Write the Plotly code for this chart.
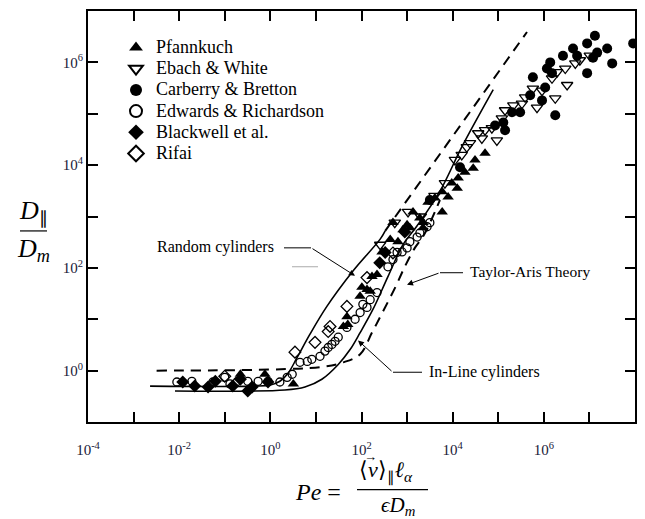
import plotly.graph_objects as go

# ---------------- data ----------------
pfannkuch_pe = [0.22, 0.76, 3.2, 40, 48, 50, 93, 102, 132, 155, 170, 219, 282, 427, 490, 631, 813, 1000,
                1150, 1350, 1900, 2240, 2240, 2880, 4070, 5890, 5890, 7940, 9550, 12600, 13200, 18600,
                28200, 30900, 51300]
pfannkuch_d = [0.85, 0.85, 0.55, 7.2, 11.2, 7.9, 28, 42, 38, 35, 68, 74, 204, 355, 760, 324, 550, 690,
               603, 1230, 933, 603, 760, 1900, 2290, 1230, 3020, 2400, 4470, 3550, 5620, 7240,
               8710, 12600, 17000]

ebach_pe = [257, 537, 1050, 2000, 3980, 6760, 11200, 15800, 20400, 24000, 36300, 43700, 51300, 72400,
            93300, 120000, 141000, 214000, 331000, 389000, 575000, 708000, 912000, 1.51e6, 1.78e6,
            1.95e6, 2.95e6, 3.24e6, 4.9e6, 6.17e6, 1.02e7]
ebach_d = [282, 759, 1230, 1000, 2510, 4470, 12600, 15800, 22400, 26900, 41700, 33100, 47900, 52500,
           30200, 81300, 117000, 145000, 158000, 209000, 309000, 132000, 282000, 490000, 200000,
           646000, 759000, 363000, 955000, 1.1e6, 1.35e6]

carberry_pe = [3160, 14500, 85100, 129000, 141000, 200000, 302000, 501000, 912000, 1.07e6, 575000,
               1.38e6, 1.17e6, 1.51e6, 1.78e6, 2.63e6, 4.37e6, 5.37e6, 8.91e6, 8.91e6, 1.48e7,
               1.2e7, 1.32e7, 2.45e7, 3.16e7, 9.12e7]
carberry_d = [2090, 9120, 58900, 67600, 47900, 107000, 107000, 229000, 182000, 324000, 513000,
              1.0e6, 759000, 617000, 93300, 1.35e6, 1.86e6, 1.35e6, 617000, 2.34e6, 1.55e6,
              1.23e6, 3.31e6, 1.86e6, 955000, 2.34e6]

edwards_pe = [0.0089, 0.019, 0.055, 0.10, 0.13, 0.19, 0.32, 0.54, 0.89, 1.62, 2.34, 3.02, 4.47, 6.46,
              8.13, 12.3, 15.8, 18.6, 22.4, 26.3, 30.9, 47.9, 72.4, 93.3, 107, 132, 155, 219, 380,
              490, 603, 776, 1000, 1150, 1660, 1910, 2750, 3160]
edwards_d = [0.60, 0.62, 0.60, 0.74, 0.55, 0.62, 0.62, 0.62, 0.62, 0.60, 0.74, 0.85, 1.45, 1.51,
             1.66, 1.90, 2.40, 2.82, 3.24, 3.72, 4.47, 6.92, 10.0, 13.5, 19.5, 17.0, 24.0, 33.1, 105,
             145, 200, 204, 245, 324, 398, 479, 631, 759]

blackwell_pe = [0.012, 0.022, 0.043, 0.062, 0.15, 0.22, 0.32, 0.40, 0.89, 251, 331, 891]
blackwell_d = [0.60, 0.50, 0.48, 0.62, 0.50, 0.68, 0.40, 0.48, 0.60, 126, 200, 501]

rifai_pe = [0.10, 3.47, 9.55, 18.6, 20.4, 47.9, 132, 490]
rifai_d = [0.78, 2.29, 3.55, 5.75, 7.24, 17.8, 64.6, 195]

# theory curves
random_pe = [0.0023, 0.457, 1.0, 1.62, 2.45, 3.89, 7.41, 17.4, 65, 257, 331]
random_d = [0.50, 0.50, 0.525, 0.62, 0.89, 1.82, 5.13, 17.8, 87, 363, 525]
random_ext_pe = [331, 427000]
random_ext_d = [525, 3.9e6]

inline_pe = [0.0081, 2.09, 5.75, 13.5, 30.9, 56.2, 93.3, 178, 380, 813, 1660, 5250, 16200, 77600]
inline_d = [0.40, 0.42, 0.48, 0.68, 1.32, 2.57, 5.50, 15.5, 67.6, 282, 661, 3090, 23400, 295000]

taylor_pe = [0.0032, 12.3, 39.8, 93.3, 170, 295, 550, 912, 1480, 2340, 5250]
taylor_d = [1.0, 1.17, 1.45, 2.09, 5.5, 14.1, 41.7, 110, 245, 437, 2090]

x_tick_vals = [1e-4, 1e-3, 1e-2, 1e-1, 1e0, 1e1, 1e2, 1e3, 1e4, 1e5, 1e6, 1e7, 1e8]
x_tick_text = ["10<sup>-4</sup>", "", "10<sup>-2</sup>", "", "10<sup>0</sup>", "", "10<sup>2</sup>", "",
               "10<sup>4</sup>", "", "10<sup>6</sup>", "", ""]
y_tick_vals = [1e-1, 1e0, 1e1, 1e2, 1e3, 1e4, 1e5, 1e6, 1e7]
y_tick_text = ["", "10<sup>0</sup>", "", "10<sup>2</sup>", "", "10<sup>4</sup>", "", "10<sup>6</sup>", ""]

# ---------------- figure ----------------
SERIF = "Liberation Serif, Times New Roman, serif"
fig = go.Figure()

solid = dict(color="black", width=1.6)
dashed = dict(color="black", width=2, dash="10px,7px")
fig.add_trace(go.Scatter(x=random_pe, y=random_d, mode="lines", line=solid,
                         line_shape="spline", showlegend=False, hoverinfo="skip"))
fig.add_trace(go.Scatter(x=random_ext_pe, y=random_ext_d, mode="lines", line=dashed,
                         showlegend=False, hoverinfo="skip"))
fig.add_trace(go.Scatter(x=inline_pe, y=inline_d, mode="lines", line=solid,
                         line_shape="spline", showlegend=False, hoverinfo="skip"))
fig.add_trace(go.Scatter(x=taylor_pe, y=taylor_d, mode="lines", line=dashed,
                         line_shape="spline", showlegend=False, hoverinfo="skip"))

series = [
    ("Pfannkuch", pfannkuch_pe, pfannkuch_d, "triangle-up", 10),
    ("Ebach & White", ebach_pe, ebach_d, "triangle-down-open", 10),
    ("Carberry & Bretton", carberry_pe, carberry_d, "circle", 10),
    ("Edwards & Richardson", edwards_pe, edwards_d, "circle-open", 8),
    ("Blackwell et al.", blackwell_pe, blackwell_d, "diamond", 10),
    ("Rifai", rifai_pe, rifai_d, "diamond-open", 9),
]
for name, xs, ys, sym, size in series:
    fig.add_trace(go.Scatter(
        x=xs, y=ys, mode="markers", cliponaxis=False,
        name='<span style="font-size:18px">' + name.replace("&", "&amp;") + "</span>",
        marker=dict(symbol=sym, size=size, color="black",
                    line=dict(color="black", width=1.3 if "open" in sym else 0)),
    ))

axis_common = dict(
    type="log", showline=True, linecolor="black", linewidth=2, mirror="allticks",
    ticks="inside", ticklen=10, tickwidth=1.5, tickcolor="black", showgrid=False,
    zeroline=False, tickfont=dict(family=SERIF, size=15, color="#202038"),
)
fig.update_xaxes(range=[-4, 8], tickmode="array", tickvals=x_tick_vals, ticktext=x_tick_text,
                 ticklabelstandoff=13, **axis_common)
fig.update_yaxes(range=[-1, 7], tickmode="array", tickvals=y_tick_vals, ticktext=y_tick_text,
                 ticklabelstandoff=0, **axis_common)

# helpers: positions given in window pixels (plot area spans x 88..635, y 9..422)
def px(xw):
    return (xw - 88) / 547.0

def py(yw):
    return (422 - yw) / 413.0

annotations = []
def text_ann(x, y, text, size, xanchor="center", yanchor="middle"):
    annotations.append(dict(xref="paper", yref="paper", x=px(x), y=py(y), text=text,
                            showarrow=False, xanchor=xanchor, yanchor=yanchor,
                            font=dict(family=SERIF, size=size, color="black")))

def arrow_ann(xh, yh, xt, yt):
    annotations.append(dict(xref="paper", yref="paper", x=px(xh), y=py(yh), text="",
                            showarrow=True, ax=xt - xh, ay=yt - yh, arrowhead=2,
                            arrowsize=1.2, arrowwidth=1, arrowcolor="black"))

text_ann(155, 246, "Random cylinders", 16, xanchor="left")
text_ann(468, 271, "Taylor-Aris Theory", 15.5, xanchor="left")
text_ann(427, 372, "In-Line cylinders", 16, xanchor="left")
arrow_ann(355, 275, 311, 247)
arrow_ann(407, 284, 440, 272)
arrow_ann(358, 340, 393, 372)

# axis titles
text_ann(33, 211, "<i>D</i><sub>∥</sub>", 26)
text_ann(33, 249, "<i>D<sub>m</sub></i>", 26)
text_ann(318, 492, "<i>Pe</i> =", 24)
text_ann(357, 472, "⟨<i>v</i>⟩<sub>∥</sub><i>ℓ</i><sub><i>α</i></sub>", 22, xanchor="left")
text_ann(370, 457, "→", 13)
text_ann(398, 506, "<i>ϵD<sub>m</sub></i>", 21)

shapes = []
def seg(x0, y0, x1, y1, color="black", width=1):
    shapes.append(dict(type="line", xref="paper", yref="paper", x0=px(x0), y0=py(y0),
                       x1=px(x1), y1=py(y1), line=dict(color=color, width=width)))

seg(284, 247, 311, 247)
seg(440, 272, 463, 272)
seg(393, 372, 422, 372)
seg(292, 266, 318, 266, color="#aaaaaa", width=1)
seg(20, 230, 47, 230, width=1.2)
seg(357, 490, 428, 490, width=1.2)

# the page body adds an 8px margin, so the figure is 8px smaller than the window
fig.update_layout(
    width=637, height=511,
    margin=dict(l=80, r=10, t=1, b=97),
    paper_bgcolor="white", plot_bgcolor="white",
    annotations=annotations, shapes=shapes,
    legend=dict(x=px(116), y=py(30), xanchor="left", yanchor="top",
                font=dict(family=SERIF, size=14, color="black"),
                bgcolor="rgba(0,0,0,0)", tracegroupgap=0, itemsizing="constant"),
    showlegend=True,
)

fig.write_html("out.html")
